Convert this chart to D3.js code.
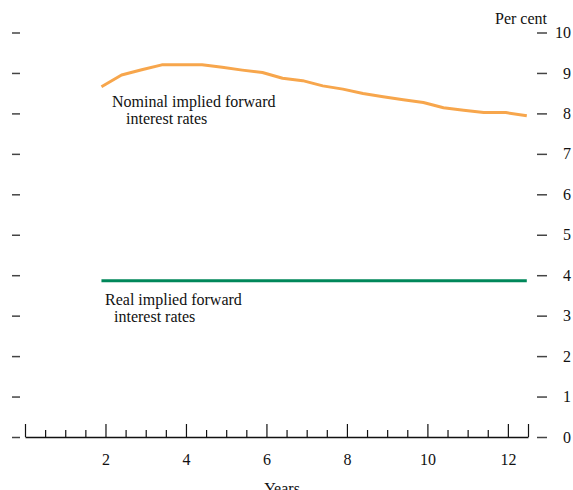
<!DOCTYPE html>
<html><head><meta charset="utf-8">
<script src="https://cdn.jsdelivr.net/npm/d3@7"></script>
<style>
body{margin:0;background:#fff;}
svg text{font-family:"Liberation Serif","Times New Roman",serif;fill:#111;}
</style></head>
<body><div id="chart"></div>
<script>
const years = [1.9,2.4,2.9,3.4,3.9,4.4,4.9,5.4,5.9,6.4,6.9,7.4,7.9,8.4,8.9,9.4,9.9,10.4,10.9,11.4,11.95,12.47];
const nominal = [8.66,8.95,9.08,9.20,9.20,9.20,9.14,9.07,9.01,8.87,8.81,8.68,8.60,8.49,8.41,8.34,8.27,8.14,8.08,8.02,8.02,7.94];
const real = [3.86,3.86,3.86,3.86,3.86,3.86,3.86,3.86,3.86,3.86,3.86,3.86,3.86,3.86,3.86,3.86,3.86,3.86,3.86,3.86,3.86,3.86];
const xTicks = [0,0.5,1,1.5,2,2.5,3,3.5,4,4.5,5,5.5,6,6.5,7,7.5,8,8.5,9,9.5,10,10.5,11,11.5,12,12.5];
const xLabels = [2,4,6,8,10,12];
const yTicks = [0,1,2,3,4,5,6,7,8,9,10];

const W = 573, H = 490;
const svg = d3.select("#chart").append("svg").attr("width", W).attr("height", H);
const x = d3.scaleLinear().domain([0,12.5]).range([25,528]);
const y = d3.scaleLinear().domain([0,10]).range([437,32.5]);

// left dashes
const gl = svg.append("g").attr("transform","translate(20,0)")
  .call(d3.axisLeft(y).tickValues(yTicks).tickSize(8).tickFormat(""));
gl.select(".domain").remove();
gl.selectAll(".tick line").attr("stroke","#444").attr("stroke-width",1.5);

// right dashes + labels
const gr = svg.append("g").attr("transform","translate(537,0)")
  .call(d3.axisRight(y).tickValues(yTicks).tickSize(10).tickFormat(d3.format("d")));
gr.select(".domain").remove();
gr.selectAll(".tick line").attr("stroke","#444").attr("stroke-width",1.5);
gr.selectAll(".tick text").attr("x",34).attr("text-anchor","end")
  .style("font-size","16px").attr("fill","#111");

// bottom axis ticks
const gb = svg.append("g").attr("transform","translate(0,437)")
  .call(d3.axisBottom(x).tickValues(xTicks).tickSize(-7).tickSizeOuter(0).tickFormat(""));
gb.select(".domain").attr("stroke","#111").attr("stroke-width",1.3);
gb.selectAll(".tick line").attr("stroke","#111").attr("stroke-width",1.2)
  .attr("y2", d => (d % 2 === 0 || d === 12.5) ? -13 : -7);

// bottom labels
const gbl = svg.append("g").attr("transform","translate(0,437)")
  .call(d3.axisBottom(x).tickValues(xLabels).tickSize(0).tickPadding(17).tickFormat(d3.format("d")));
gbl.select(".domain").remove();
gbl.selectAll(".tick text").style("font-size","16px").attr("fill","#111");

// lines
const line = d3.line().x((d,i)=>x(years[i])).y(d=>y(d));
svg.append("path").datum(nominal).attr("d",line)
  .attr("fill","none").attr("stroke","#F7A64C").attr("stroke-width",3).attr("stroke-linejoin","round");
svg.append("path").datum(real).attr("d",line)
  .attr("fill","none").attr("stroke","#00875A").attr("stroke-width",3);

// texts
const t = (s,xx,yy,anchor="start") => svg.append("text").attr("x",xx).attr("y",yy)
  .attr("text-anchor",anchor).style("font-size","16px").text(s);
t("Per cent",521,24,"middle");
t("Years",282,494,"middle");
t("Nominal implied forward",112,107);
t("interest rates",126,124);
t("Real implied forward",105,305);
t("interest rates",114,322);
</script></body></html>
